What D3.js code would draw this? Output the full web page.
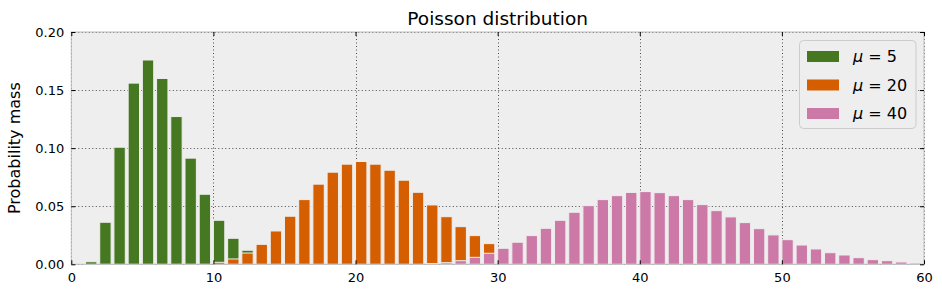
<!DOCTYPE html>
<html><head><meta charset="utf-8">
<script src="https://cdn.jsdelivr.net/npm/d3@7"></script>
<style>html,body{margin:0;padding:0;background:#fff;} svg{display:block;font-family:"DejaVu Sans",sans-serif;}</style>
</head><body>
<svg id="chart" width="942" height="294"></svg>
<script>
const title = "Poisson distribution";
const yLabel = "Probability mass";
const seriesNames = ["5", "20", "40"];
const seriesColors = ["#467821", "#D55E00", "#CC79A7"];
const xTicks = [0, 10, 20, 30, 40, 50, 60];
const yTicks = [0, 0.05, 0.10, 0.15, 0.20];

const kGreen = [1, 2, 3, 4, 5, 6, 7, 8, 9, 10, 11, 12, 13];
const pmfGreen = [0.0022, 0.0362, 0.1008, 0.1560, 0.1759, 0.1600, 0.1272, 0.0914, 0.0603, 0.0379, 0.0224, 0.0121, 0.0060];

const kOrange = [10, 11, 12, 13, 14, 15, 16, 17, 18, 19, 20, 21, 22, 23, 24, 25, 26, 27, 28, 29, 30, 31];
const pmfOrange = [0.0017, 0.0046, 0.0097, 0.0172, 0.0287, 0.0414, 0.0557, 0.0690, 0.0793, 0.0862, 0.0885, 0.0862, 0.0810, 0.0724, 0.0620, 0.0511, 0.0410, 0.0324, 0.0247, 0.0178, 0.0120, 0.0080];

const kPink = [25, 26, 27, 28, 29, 30, 31, 32, 33, 34, 35, 36, 37, 38, 39, 40, 41, 42, 43, 44, 45, 46, 47, 48, 49, 50, 51, 52, 53, 54, 55, 56, 57, 58, 59];
const pmfPink = [0.0007, 0.0014, 0.0031, 0.0060, 0.0095, 0.0138, 0.0190, 0.0247, 0.0310, 0.0379, 0.0448, 0.0505, 0.0557, 0.0591, 0.0619, 0.0626, 0.0617, 0.0591, 0.0557, 0.0514, 0.0462, 0.0408, 0.0359, 0.0307, 0.0253, 0.0212, 0.0166, 0.0132, 0.0100, 0.0080, 0.0057, 0.0040, 0.0031, 0.0020, 0.0011];

const series = [
  {k: kGreen, v: pmfGreen},
  {k: kOrange, v: pmfOrange},
  {k: kPink, v: pmfPink}
];

const L = 71.3, R = 924, T = 32, B = 264.3;
const svg = d3.select("#chart");
const x = d3.scaleLinear().domain([0, 60]).range([L, R]);
const y = d3.scaleLinear().domain([0, 0.2]).range([B, T]);

// background
svg.append("rect").attr("x", L).attr("y", T).attr("width", R - L).attr("height", B - T).attr("fill", "#eeeeee");

// grid
const grid = svg.append("g");
grid.selectAll("line.gx").data(xTicks).join("line")
  .attr("x1", d => Math.round(x(d)) + 0.5).attr("x2", d => Math.round(x(d)) + 0.5)
  .attr("y1", T).attr("y2", B)
  .attr("stroke", "#222").attr("stroke-width", 0.8).attr("stroke-dasharray", "1,2.5");
grid.selectAll("line.gy").data(yTicks).join("line")
  .attr("y1", d => Math.round(y(d)) + 0.5).attr("y2", d => Math.round(y(d)) + 0.5)
  .attr("x1", L).attr("x2", R)
  .attr("stroke", "#222").attr("stroke-width", 0.8).attr("stroke-dasharray", "1,2.5");

// bars
series.forEach((s, i) => {
  const data = s.k.map((k, j) => ({k, v: s.v[j]}));
  svg.append("g").selectAll("rect").data(data).join("rect")
    .attr("x", d => x(d.k))
    .attr("width", x(0.8) - x(0))
    .attr("y", d => y(d.v))
    .attr("height", d => y(0) - y(d.v))
    .attr("fill", seriesColors[i])
    .attr("stroke", "#eeeeee").attr("stroke-width", 1);
});

// frame
svg.append("rect").attr("x", L).attr("y", T).attr("width", R - L).attr("height", B - T)
  .attr("fill", "none").attr("stroke", "#bcbcbc").attr("stroke-width", 1);

// axes with inward ticks
const xAxisB = d3.axisBottom(x).tickValues(xTicks).tickFormat(d3.format("d")).tickSizeInner(-4).tickSizeOuter(0).tickPadding(8);
const gxB = svg.append("g").attr("transform", `translate(0,${B})`).call(xAxisB);
const xAxisT = d3.axisTop(x).tickValues(xTicks).tickFormat("").tickSizeInner(-4).tickSizeOuter(0);
const gxT = svg.append("g").attr("transform", `translate(0,${T})`).call(xAxisT);
const yAxisL = d3.axisLeft(y).tickValues(yTicks).tickFormat(d3.format(".2f")).tickSizeInner(-4).tickSizeOuter(0).tickPadding(7);
const gyL = svg.append("g").attr("transform", `translate(${L},0)`).call(yAxisL);
const yAxisR = d3.axisRight(y).tickValues(yTicks).tickFormat("").tickSizeInner(-4).tickSizeOuter(0);
const gyR = svg.append("g").attr("transform", `translate(${R},0)`).call(yAxisR);
[gxB, gxT, gyL, gyR].forEach(g => {
  g.select(".domain").remove();
  g.selectAll(".tick line").attr("stroke", "#000").attr("stroke-width", 1);
  g.selectAll("text").attr("font-family", "DejaVu Sans").attr("font-size", 13).attr("fill", "#000");
});
gxB.selectAll("text").attr("dy", "0.71em");

// title
svg.append("text").attr("x", (L + R) / 2).attr("y", 25).attr("text-anchor", "middle")
  .attr("font-size", 18.5).attr("fill", "#000").text(title);

// y label
svg.append("text").attr("transform", `translate(20,${(T + B) / 2}) rotate(-90)`)
  .attr("text-anchor", "middle").attr("font-size", 16).attr("fill", "#000").text(yLabel);

// legend
const lg = svg.append("g");
lg.append("rect").attr("x", 799.5).attr("y", 40.5).attr("width", 116.5).attr("height", 88)
  .attr("rx", 4).attr("fill", "#eeeeee").attr("stroke", "#cccccc").attr("stroke-width", 1);
seriesNames.forEach((name, i) => {
  const cy = 56.5 + i * 28.5;
  lg.append("rect").attr("x", 806.5).attr("y", cy - 6).attr("width", 33).attr("height", 12)
    .attr("fill", seriesColors[i]).attr("stroke", "#eeeeee").attr("stroke-width", 1);
  const t = lg.append("text").attr("x", 853).attr("y", cy + 5.5).attr("font-size", 16).attr("fill", "#000");
  t.append("tspan").attr("font-style", "italic").text("μ");
  t.append("tspan").text(" = " + name);
});
</script>
</body></html>
